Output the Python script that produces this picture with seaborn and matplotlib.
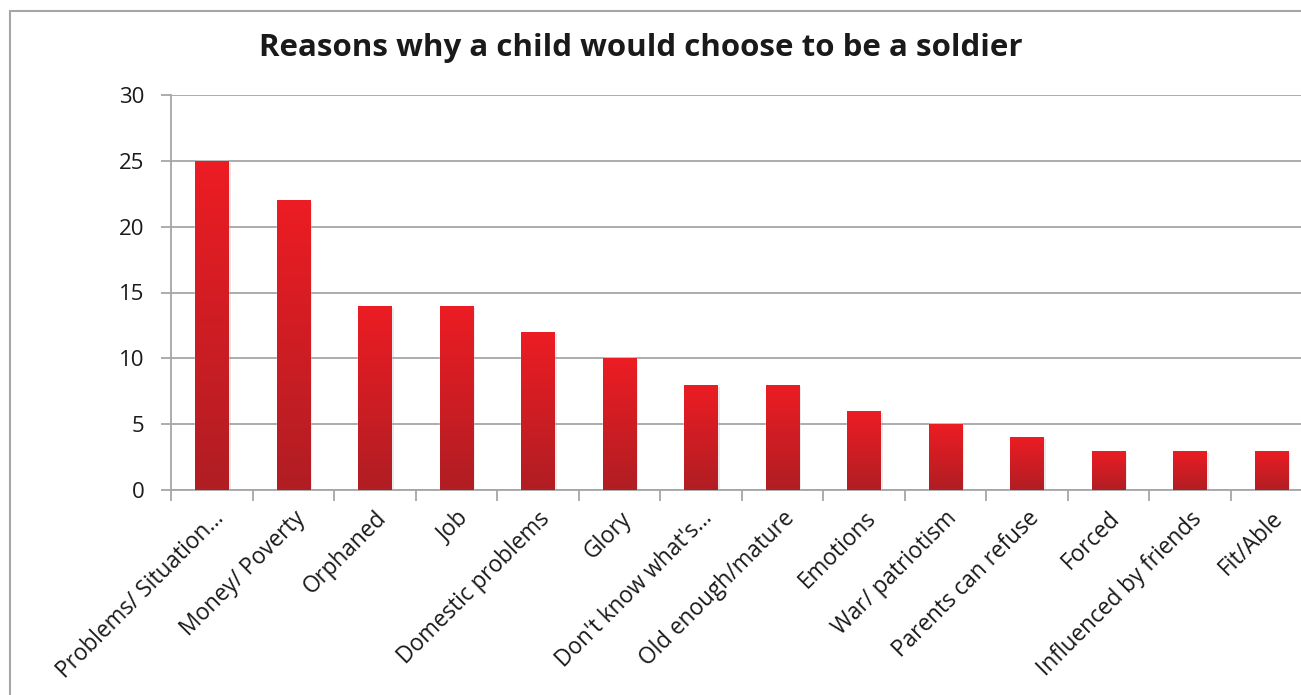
import numpy as np
import pandas as pd
import matplotlib
matplotlib.use("Agg")
import matplotlib.pyplot as plt
import matplotlib.patheffects as pe
from matplotlib.colors import LinearSegmentedColormap
from matplotlib.patches import Rectangle
import seaborn as sns

reasons = [
    "Problems/ Situation\u2026", "Money/ Poverty", "Orphaned", "Job",
    "Domestic problems", "Glory", "Don't know what's\u2026",
    "Old enough/mature", "Emotions", "War/ patriotism",
    "Parents can refuse", "Forced", "Influenced by friends", "Fit/Able",
]
counts = [25, 22, 14, 14, 12, 10, 8, 8, 6, 5, 4, 3, 3, 3]
y_ticks = [0, 5, 10, 15, 20, 25, 30]
title = "Reasons why a child would choose to be a soldier"

sns.set_style("white")
plt.rcParams["font.family"] = ["Open Sans", "DejaVu Sans"]

W, H = 1301, 695
fig = plt.figure(figsize=(W / 100, H / 100), dpi=100)

# outer chart frame
fig.patches.append(Rectangle((10 / W, -0.05), 1.1, 1 - 11 / H + 0.05,
                             transform=fig.transFigure, fill=False,
                             edgecolor="#a6a6a6", linewidth=1.5))

ax = fig.add_axes([171 / W, 1 - 490 / H, 1141 / W, 395 / H])
ax.set_clip_on(False)

df = pd.DataFrame({"reason": reasons, "count": counts})
sns.barplot(data=df, x="reason", y="count", ax=ax, color="#b01e23",
            width=0.41, saturation=1, zorder=3)

grad = LinearSegmentedColormap.from_list("red_grad", ["#b01e23", "#ed1c24"])
ramp = np.linspace(0, 1, 256).reshape(-1, 1)
for bar in ax.patches:
    x0, y0 = bar.get_x(), bar.get_y()
    w, h = bar.get_width(), bar.get_height()
    bar.set_path_effects([pe.SimplePatchShadow(offset=(1.5, -1.5),
                                               shadow_rgbFace="#999999",
                                               alpha=0.22), pe.Normal()])
    im = ax.imshow(ramp, cmap=grad, aspect="auto", origin="lower",
                   extent=(x0, x0 + w, y0, y0 + h), zorder=4,
                   interpolation="bicubic")
    im.set_clip_path(bar)

ax.set_xlim(-0.5, len(reasons) - 0.5)
ax.set_ylim(0, 30)
ax.set_yticks(y_ticks)
ax.yaxis.grid(True, color="#a6a6a6", linewidth=1.3, zorder=0)
ax.set_axisbelow(True)

for side in ("top", "right"):
    ax.spines[side].set_visible(False)
for side in ("left", "bottom"):
    ax.spines[side].set_color("#a6a6a6")
    ax.spines[side].set_linewidth(1.3)

ax.set_xlabel("")
ax.set_ylabel("")
ax.tick_params(axis="y", length=7, width=1.3, color="#a6a6a6", pad=12,
               labelsize=16, labelcolor="#1a1a1a", left=True)
ax.set_xticks(np.arange(len(reasons)))
ax.set_xticks(np.arange(len(reasons) + 1) - 0.5, minor=True)
ax.tick_params(axis="x", which="major", length=0, pad=12)
ax.tick_params(axis="x", which="minor", length=8, width=1.3,
               color="#a6a6a6", bottom=True)
ax.set_xticklabels(reasons, rotation=45, ha="right", va="top",
                   rotation_mode="anchor", fontsize=16.3, color="#1a1a1a")

fig.text(641 / W, 1 - 48 / H, title, ha="center", va="center",
         fontsize=22.5, fontweight="bold", color="#1a1a1a")

fig.savefig("out.png", dpi=100)
